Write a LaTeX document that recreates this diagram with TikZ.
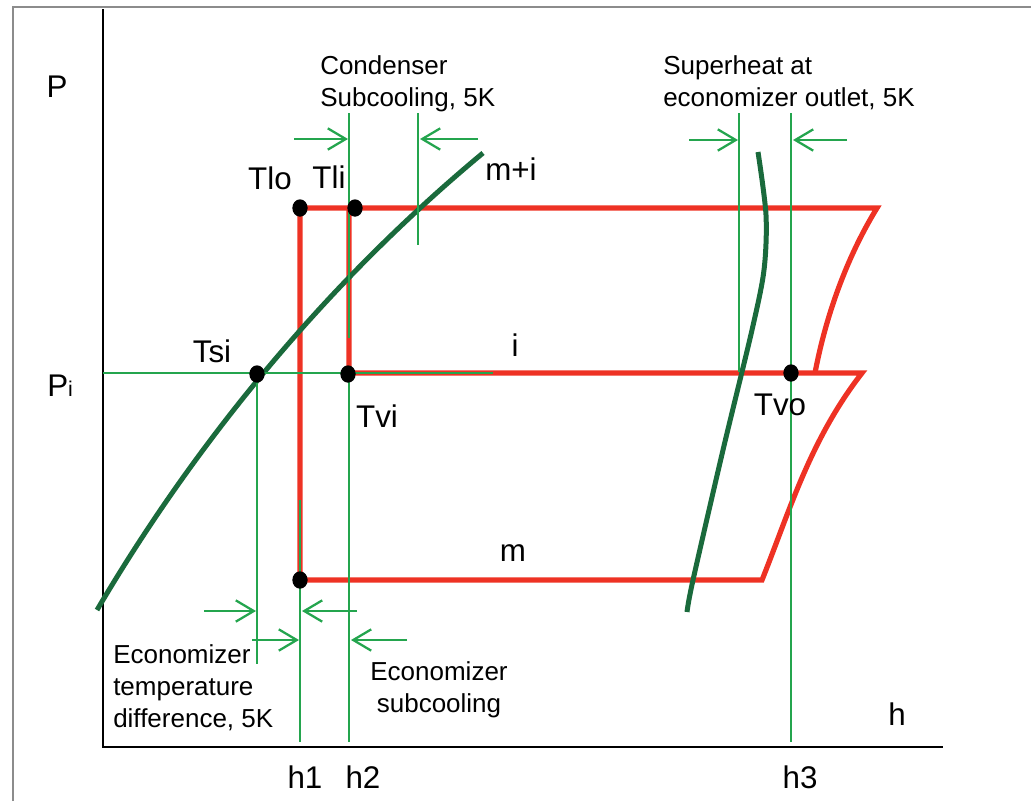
\documentclass[tikz,border=0pt]{standalone}
\usepackage{fontspec}
\setmainfont{Liberation Sans}
\usetikzlibrary{arrows.meta,shapes.geometric}
\definecolor{cycred}{RGB}{238,50,36}
\definecolor{satgreen}{RGB}{26,106,60}
\definecolor{auxgreen}{RGB}{36,165,78}
\definecolor{framegray}{RGB}{140,140,140}
\begin{document}
\begin{tikzpicture}[x=0.75pt,y=-0.75pt,
  redline/.style={draw=cycred,line width=3.9pt},
  satline/.style={draw=satgreen,line width=3.75pt},
  guide/.style={draw=auxgreen,line width=1.7pt},
  dimarrow/.style={draw=auxgreen,line width=1.7pt,-{Straight Barb[length=13.5pt,width=16pt]}},
  dot/.style={ellipse,fill=black,inner sep=0pt,minimum width=11.5pt,minimum height=13pt},
  biglabel/.style={font=\fontsize{23.5}{28}\selectfont,inner sep=0pt,anchor=base},
  smalltext/.style={font=\fontsize{19.5}{24}\selectfont,inner sep=0pt},
]
\useasboundingbox (0,0) rectangle (1031,801);
% frame
\draw[framegray,line width=1.2pt] (13,801) -- (13,7) -- (1031,7);
% axes
\coordinate (ytop) at (103,9);
\coordinate (origin) at (103,747);
\coordinate (xend) at (943,747);
\draw[black,line width=2pt] (ytop) -- (origin) -- (xend);
% cycle points
\coordinate (A) at (300,208);
\coordinate (B) at (349,208);
\coordinate (C) at (877,208);
\coordinate (D) at (815,373);
\coordinate (E) at (862,373);
\coordinate (F) at (349,373);
\coordinate (G) at (300,580);
\coordinate (H) at (762,580);
\draw[redline] (G) -- (A) -- (C) .. controls (845,260) and (825,320) .. (D);
\draw[redline] (B) -- (F) -- (E) .. controls (810,440) and (790,510) .. (H) -- (G);
% saturation lines
\coordinate (liqlow) at (97,610);
\coordinate (liqhigh) at (483,153);
\draw[satline] (liqlow) .. controls (190,452) and (318,290) .. (liqhigh);
\draw[satline] plot[smooth] coordinates {(758,152) (766,215) (764,270) (752,330) (723,450) (693,580) (687,612)};
% guide lines
\coordinate (piaxis) at (103,373);
\coordinate (piend) at (493,373);
\draw[guide] (piaxis) -- (piend);
\coordinate (g2top) at (349,113);
\coordinate (g2mid) at (349,338);
\coordinate (g2low) at (349,374);
\coordinate (g2bot) at (349,742);
\draw[guide] (g2top) -- (g2mid);
\draw[guide] (g2low) -- (g2bot);
\coordinate (gctop) at (418,113);
\coordinate (gcbot) at (418,245);
\draw[guide] (gctop) -- (gcbot);
\coordinate (gstop) at (739,113);
\coordinate (gsbot) at (739,372);
\draw[guide] (gstop) -- (gsbot);
\coordinate (g3top) at (791,113);
\coordinate (g3bot) at (791,742);
\draw[guide] (g3top) -- (g3bot);
\coordinate (gttop) at (257,375);
\coordinate (gtbot) at (257,664);
\draw[guide] (gttop) -- (gtbot);
\coordinate (g1top) at (300,500);
\coordinate (g1bot) at (300,742);
\draw[guide] (g1top) -- (g1bot);
% dimension arrows
\coordinate (a1s) at (294,139); \coordinate (a1e) at (348,139);
\coordinate (a2s) at (478,139); \coordinate (a2e) at (420,139);
\coordinate (a3s) at (689,140); \coordinate (a3e) at (738,140);
\coordinate (a4s) at (847,140); \coordinate (a4e) at (793,140);
\coordinate (a5s) at (204,611); \coordinate (a5e) at (256,611);
\coordinate (a6s) at (357,611); \coordinate (a6e) at (302,611);
\coordinate (a7s) at (252,640); \coordinate (a7e) at (299,640);
\coordinate (a8s) at (407,640); \coordinate (a8e) at (351,640);
\foreach \i in {1,...,8} {\draw[dimarrow] (a\i s) -- (a\i e);}
% dots
\node[dot] (dTlo) at (A) {};
\node[dot] (dTli) at (355,208) {};
\node[dot] (dTsi) at (257,374) {};
\node[dot] (dTvi) at (348,374) {};
\node[dot] (dTvo) at (791,373) {};
\node[dot] (dBot) at (G) {};
% labels
\node[biglabel] (lP) at (57,97) {P};
\node[biglabel,anchor=base west] (lPi) at (47,396) {P{\fontsize{16}{16}\selectfont i}};
\node[biglabel] (lTlo) at (270,189) {Tlo};
\node[biglabel] (lTli) at (329,188) {Tli};
\node[biglabel] (lmi) at (511,180) {m+i};
\node[biglabel] (lTsi) at (212,362) {Tsi};
\node[biglabel] (li) at (515,356) {i};
\node[biglabel] (lTvi) at (377,427) {Tvi};
\node[biglabel] (lTvo) at (780,415) {Tvo};
\node[biglabel] (lm) at (513,561) {m};
\node[biglabel] (lh) at (897,725) {h};
\node[biglabel] (lh1) at (305,788) {h1};
\node[biglabel] (lh2) at (363,788) {h2};
\node[biglabel] (lh3) at (800,788) {h3};
\node[smalltext,anchor=north west,align=left] (tcond) at (320,55) {Condenser\\Subcooling, 5K};
\node[smalltext,anchor=north west,align=left] (tsup) at (663,55) {Superheat at\\economizer outlet, 5K};
\node[smalltext,anchor=north west,align=left] (tetd) at (113,644) {Economizer\\temperature\\difference, 5K};
\node[smalltext,anchor=north,align=center] (tesc) at (439,661) {Economizer\\subcooling};
\end{tikzpicture}
\end{document}
